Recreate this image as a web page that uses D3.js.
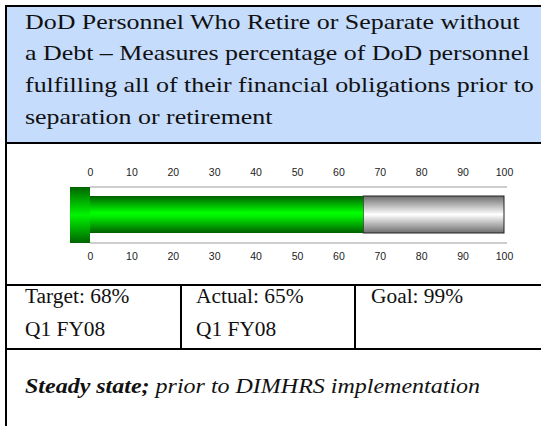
<!DOCTYPE html>
<html>
<head>
<meta charset="utf-8">
<script src="https://cdn.jsdelivr.net/npm/d3@7.9.0/dist/d3.min.js"></script>
<style>
  html, body { margin: 0; padding: 0; background: #fff; }
  svg { display: block; }
</style>
</head>
<body>
<svg id="chart" width="541" height="426"></svg>
<script>
// --- data ---
const titleLines = [
  'DoD Personnel Who Retire or Separate without',
  'a Debt \u2013 Measures percentage of DoD personnel',
  'fulfilling all of their financial obligations prior to',
  'separation or retirement'
];
const axisDomain = [0, 100];
const tickValues = [0, 10, 20, 30, 40, 50, 60, 70, 80, 90, 100];
const actualValue = 66;
const cells = [
  ['Target: 68%', 'Q1 FY08'],
  ['Actual: 65%', 'Q1 FY08'],
  ['Goal: 99%']
];
const noteBold = 'Steady state;';
const noteRest = ' prior to DIMHRS implementation';

const svg = d3.select('#chart');
const SERIF = 'Liberation Serif';
const FS = 20;

// gradients
const defs = svg.append('defs');
function vGrad(id, stops) {
  const g = defs.append('linearGradient').attr('id', id)
    .attr('x1', 0).attr('y1', 0).attr('x2', 0).attr('y2', 1);
  stops.forEach(([o, c]) => g.append('stop').attr('offset', o).attr('stop-color', c));
}
vGrad('green', [[0, '#005f00'], [0.45, '#00ff00'], [0.55, '#00f000'], [1, '#005f00']]);
vGrad('cap', [[0, '#006400'], [0.5, '#00f400'], [1, '#006400']]);
vGrad('gray', [[0, '#6e6e6e'], [0.5, '#ffffff'], [1, '#6e6e6e']]);

// header panel
svg.append('rect').attr('x', 7).attr('y', 6).attr('width', 534).attr('height', 137)
  .attr('fill', '#c5dcfd');

// serif text, widened with a horizontal scale to mimic the Garamond face
function serifText(parent, x0, y0, str, k) {
  return parent.append('text')
    .attr('transform', `translate(${x0},${y0}) scale(${k},1)`)
    .attr('font-family', SERIF).attr('font-size', FS).attr('fill', '#111')
    .text(str);
}

const titleG = svg.append('g');
const first = serifText(titleG, 25, 28.5, titleLines[0], 1);
const kTitle = 495 / first.node().getComputedTextLength();
first.remove();
titleLines.forEach((t, i) => serifText(titleG, 25, 28.5 + i * 31.8, t, kTitle));

// gauge
const x = d3.scaleLinear().domain(axisDomain).range([90, 504]);
const yTrackTop = 187, yTrackBot = 243, yBarTop = 196, yBarBot = 233;

svg.append('g').selectAll('line').data([yTrackTop, yTrackBot]).join('line')
  .attr('x1', x(0)).attr('x2', x(100) + 3)
  .attr('y1', d => d).attr('y2', d => d)
  .attr('stroke', '#bdbdbd').attr('stroke-width', 1.5);

svg.append('rect')
  .attr('x', x(actualValue)).attr('y', yBarTop)
  .attr('width', x(100) - x(actualValue)).attr('height', yBarBot - yBarTop)
  .attr('fill', 'url(#gray)').attr('stroke', '#222').attr('stroke-width', 1);

svg.append('rect')
  .attr('x', x(0)).attr('y', yBarTop)
  .attr('width', x(actualValue) - x(0)).attr('height', yBarBot - yBarTop)
  .attr('fill', 'url(#green)');

svg.append('rect')
  .attr('x', x(0) - 20).attr('y', yTrackTop)
  .attr('width', 20).attr('height', yTrackBot - yTrackTop)
  .attr('fill', 'url(#cap)');

const axTop = svg.append('g').attr('transform', 'translate(0,176)')
  .call(d3.axisTop(x).tickValues(tickValues).tickSize(0).tickPadding(0));
const axBot = svg.append('g').attr('transform', 'translate(0,253)')
  .call(d3.axisBottom(x).tickValues(tickValues).tickSize(0).tickPadding(0));
[axTop, axBot].forEach(a => {
  a.attr('font-family', 'Liberation Sans').attr('font-size', 10.5);
  a.select('.domain').remove();
  a.selectAll('text').attr('fill', '#222');
});

// table cells
const colX = [25, 196, 371];
const cellG = svg.append('g');
cells.forEach((lines, c) => {
  lines.forEach((t, r) => serifText(cellG, colX[c], 303 + r * 33, t, 1.07));
});

// note
const note = serifText(svg, 25, 393, null, 1.2).attr('font-style', 'italic');
note.append('tspan').attr('font-weight', 'bold').text(noteBold);
note.append('tspan').text(noteRest);

// borders
const border = svg.append('g').attr('stroke', '#000').attr('stroke-width', 2);
[6, 143, 285, 349].forEach(y => {
  border.append('line').attr('x1', 6).attr('x2', 541).attr('y1', y).attr('y2', y);
});
border.append('line').attr('x1', 6).attr('x2', 6).attr('y1', 5).attr('y2', 426);
[181, 355].forEach(xx => {
  border.append('line').attr('x1', xx).attr('x2', xx).attr('y1', 285).attr('y2', 349);
});
</script>
</body>
</html>
